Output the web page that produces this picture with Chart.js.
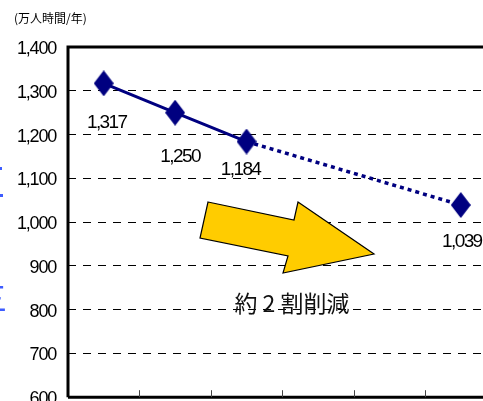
<!DOCTYPE html>
<html>
<head>
<meta charset="utf-8">
<script src="https://cdn.jsdelivr.net/npm/chart.js@4.4.0/dist/chart.umd.min.js"></script>
<style>
  html, body { margin: 0; padding: 0; background: #fff; overflow: hidden; }
  #wrap { position: relative; width: 483px; height: 401px; overflow: hidden; }
  #wrap canvas { position: absolute; left: 0; top: 0; }
</style>
</head>
<body>
<div id="wrap"><canvas id="chart" width="510" height="420" style="width:510px;height:420px"></canvas></div>
<script>
const periods = ["1", "2", "3", "4", "5", "6"];
const actual = [1317, 1250, 1184, null, null, null];
const target = [null, null, 1184, null, null, 1039];
const yMin = 600;
const yMax = 1400;
const yStep = 100;

const unitLabel = "(万人時間/年)";
const noteLabel = "約 2 割削減";

const NAVY = "#000080";
const NUM_FONT = "'Liberation Sans', Arial, sans-serif";
const JP_FONT = "'Noto Sans CJK JP', 'Noto Sans', sans-serif";

function diamond(w, h, color) {
  const c = document.createElement("canvas");
  c.width = w;
  c.height = h;
  const g = c.getContext("2d");
  g.fillStyle = color;
  g.beginPath();
  g.moveTo(w / 2, 0);
  g.lineTo(w, h / 2);
  g.lineTo(w / 2, h);
  g.lineTo(0, h / 2);
  g.closePath();
  g.fill();
  return c;
}
const marker = diamond(20, 26, NAVY);

// frame, inward ticks, arrow, value labels and notes
const decor = {
  id: "decor",
  beforeDraw(chart) {
    // the original numbers are set tight
    chart.ctx.letterSpacing = "-1.2px";
  },
  beforeDatasetsDraw(chart) {
    const { ctx, chartArea: a, scales: { x } } = chart;
    ctx.save();
    ctx.strokeStyle = "#000";
    ctx.lineWidth = 3;
    ctx.beginPath();
    ctx.moveTo(a.left, a.bottom);
    ctx.lineTo(a.left, a.top);
    ctx.lineTo(a.right, a.top);
    ctx.moveTo(a.left, a.bottom);
    ctx.lineTo(a.right, a.bottom);
    ctx.stroke();

    const half = (x.getPixelForValue(1) - x.getPixelForValue(0)) / 2;
    ctx.lineWidth = 1;
    ctx.strokeStyle = "#444";
    ctx.beginPath();
    for (let i = 1; i < periods.length; i++) {
      const px = Math.round(x.getPixelForValue(i) - half) + 0.5;
      ctx.moveTo(px, a.bottom);
      ctx.lineTo(px, a.bottom - 7);
    }
    ctx.stroke();
    ctx.restore();
  },
  afterDatasetsDraw(chart) {
    const { ctx } = chart;
    ctx.save();

    // arrow
    const arrow = [[208, 202], [294, 220], [298, 202], [374, 254], [283, 273], [288, 256], [200, 238]];
    ctx.beginPath();
    arrow.forEach(([px, py], i) => (i ? ctx.lineTo(px, py) : ctx.moveTo(px, py)));
    ctx.closePath();
    ctx.fillStyle = "#FFCC00";
    ctx.fill();
    ctx.strokeStyle = "#000";
    ctx.lineWidth = 1.2;
    ctx.stroke();

    // value labels under the markers
    const offsets = { 0: [3, 39], 1: [5, 44], 2: [-6, 28], 5: [1, 37] };
    ctx.fillStyle = "#000";
    ctx.font = "19px " + NUM_FONT;
    ctx.letterSpacing = "-1.6px";
    ctx.textAlign = "center";
    ctx.textBaseline = "middle";
    [0, 1].forEach((di) => {
      const meta = chart.getDatasetMeta(di);
      const vals = chart.data.datasets[di].data;
      meta.data.forEach((pt, i) => {
        if (vals[i] == null || !offsets[i] || (di === 1 && i === 2)) return;
        const [dx, dy] = offsets[i];
        ctx.fillText(vals[i].toLocaleString("en-US"), pt.x + dx, pt.y + dy);
      });
    });

    // unit label
    ctx.font = "12px " + JP_FONT;
    ctx.letterSpacing = "0px";
    ctx.textAlign = "left";
    ctx.fillText(unitLabel, 14, 18);

    // note
    ctx.font = "23px " + JP_FONT;
    ctx.textAlign = "center";
    ctx.fillStyle = "#111";
    ctx.fillText(noteLabel, 292, 303);

    // clipped blue side caption
    ctx.fillStyle = "#3d5cff";
    ctx.font = "32px " + JP_FONT;
    ctx.fillText("三", -9, 298);
    ctx.fillRect(0, 167, 2, 3);
    ctx.fillRect(0, 194, 3, 3);
    ctx.restore();
  }
};

new Chart(document.getElementById("chart"), {
  type: "line",
  data: {
    labels: periods,
    datasets: [
      {
        data: actual,
        borderColor: NAVY,
        borderWidth: 3,
        pointStyle: marker,
        pointRadius: 10,
        fill: false,
        tension: 0
      },
      {
        data: target,
        borderColor: NAVY,
        borderWidth: 3.5,
        borderDash: [4, 4],
        spanGaps: true,
        pointStyle: marker,
        pointRadius: [0, 0, 0, 0, 0, 10],
        fill: false,
        tension: 0
      }
    ]
  },
  options: {
    responsive: false,
    animation: false,
    layout: { padding: { left: 0, top: 47, right: 13, bottom: 21 } },
    plugins: { legend: { display: false }, tooltip: { enabled: false } },
    scales: {
      x: { type: "category", offset: true, display: false },
      y: {
        min: yMin,
        max: yMax,
        afterFit: (s) => { s.width = 68; },
        border: { display: false, dash: [8, 7] },
        grid: { color: "#000", lineWidth: 1, drawTicks: false },
        ticks: {
          stepSize: yStep,
          padding: 12,
          labelOffset: 2,
          color: "#000",
          font: { size: 18, family: NUM_FONT },
          callback: (v) => v.toLocaleString("en-US")
        }
      }
    }
  },
  plugins: [decor]
});
</script>
</body>
</html>
